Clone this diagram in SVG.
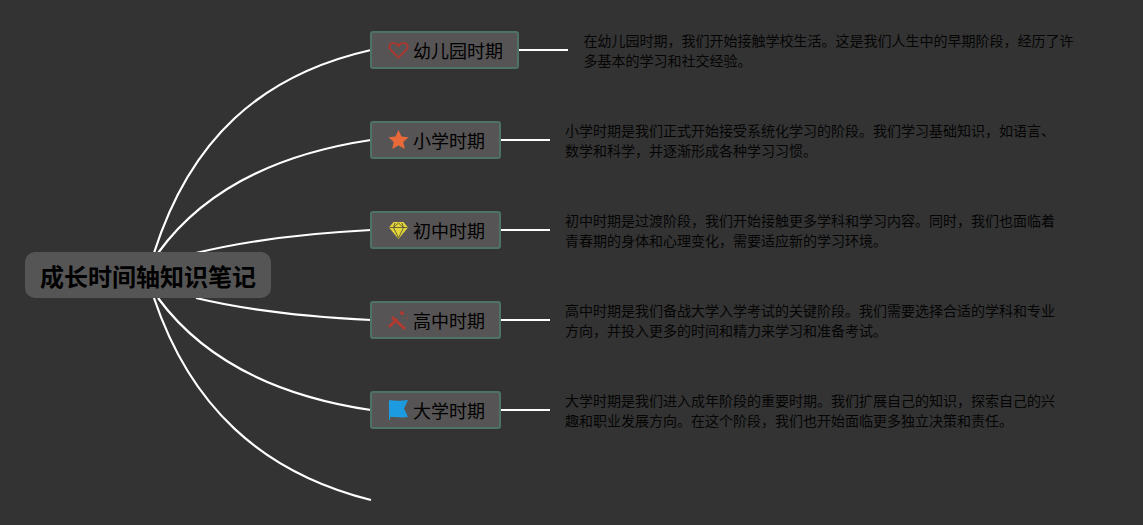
<svg xmlns="http://www.w3.org/2000/svg" width="1143" height="525" viewBox="0 0 1143 525">
<style>
text{font-family:"Noto Sans CJK SC","Liberation Sans",sans-serif;fill:#000}
.c{fill:none;stroke:#fff;stroke-width:2.200}
.n{fill:#565454;stroke:#4f7267;stroke-width:2}
.t{font-size:18px}
.d{font-size:14px;fill:#050505}
</style>
<rect width="1143" height="525" fill="#333333"/>
<g id="connectors">
<path class="c" d="M154 253C190 140 260 75 371 50"/>
<path class="c" d="M158 253C200 195 270 155 371 140"/>
<path class="c" d="M196 253C250 240 310 233 371 230"/>
<path class="c" d="M196 298C250 311 310 317 371 320"/>
<path class="c" d="M158 298C200 355 270 395 371 410"/>
<path class="c" d="M154 298C190 405 260 472 371 500"/>
<path class="c" d="M519 50H568"/>
<path class="c" d="M501 140H550"/>
<path class="c" d="M501 230H550"/>
<path class="c" d="M501 320H550"/>
<path class="c" d="M501 410H550"/>
</g>
<g id="root">
<rect x="25" y="252" width="246" height="46" rx="10" fill="#555555"/>
<text x="148" y="286" font-size="24px" font-weight="700" text-anchor="middle">成长时间轴知识笔记</text>
</g>
<g id="n1">
<rect class="n" x="371" y="32" width="147" height="36" rx="2"/>
<path d="M398.500 57.500L390.500 49.500C387.500 45.500 391 42.500 394 43C396.500 43.300 398 45 398.500 46C399 45 400.500 43.300 403 43C406 42.500 409.500 45.500 406.500 49.500Z" fill="none" stroke="#a63a33" stroke-width="2"/>
<text class="t" x="413" y="58">幼儿园时期</text>
<text class="d" x="583.500" y="46">在幼儿园时期，我们开始接触学校生活。这是我们人生中的早期阶段，经历了许</text>
<text class="d" x="583.500" y="66">多基本的学习和社交经验。</text>
</g>
<g id="n2">
<rect class="n" x="371" y="122" width="129" height="36" rx="2"/>
<path d="M398.500 130L401.500 136.500L408.500 137.300L403.300 142L404.800 149L398.500 145.500L392.200 149L393.700 142L388.500 137.300L395.500 136.500Z" fill="#e8693a"/>
<text class="t" x="413" y="148">小学时期</text>
<text class="d" x="565" y="136">小学时期是我们正式开始接受系统化学习的阶段。我们学习基础知识，如语言、</text>
<text class="d" x="565" y="156">数学和科学，并逐渐形成各种学习习惯。</text>
</g>
<g id="n3">
<rect class="n" x="371" y="212" width="129" height="36" rx="2"/>
<path d="M393.500 222H403.500L408 227.500L398.500 239L389 227.500Z" fill="#e3d43a"/>
<path d="M389.500 227.500H407.500M395 223L393.500 227.500L398.500 238L403.500 227.500L402 223M393.500 227.500L398.500 223L403.500 227.500" fill="none" stroke="#4a4a3a" stroke-width="0.800"/>
<text class="t" x="413" y="238">初中时期</text>
<text class="d" x="565" y="226">初中时期是过渡阶段，我们开始接触更多学科和学习内容。同时，我们也面临着</text>
<text class="d" x="565" y="246">青春期的身体和心理变化，需要适应新的学习环境。</text>
</g>
<g id="n4">
<rect class="n" x="371" y="302" width="129" height="36" rx="2"/>
<path d="M392 317L405 329" stroke="#b23a30" stroke-width="3" fill="none"/>
<path d="M389 327L397 319" stroke="#b23a30" stroke-width="2.500" fill="none"/>
<circle cx="402" cy="313" r="2" fill="#b23a30"/>
<circle cx="407" cy="318" r="1" fill="#8a4a44"/>
<text class="t" x="413" y="328">高中时期</text>
<text class="d" x="565" y="316">高中时期是我们备战大学入学考试的关键阶段。我们需要选择合适的学科和专业</text>
<text class="d" x="565" y="336">方向，并投入更多的时间和精力来学习和准备考试。</text>
</g>
<g id="n5">
<rect class="n" x="371" y="392" width="129" height="36" rx="2"/>
<path d="M389 400C394 401 402 401 408 400L404 408.500L408 417C402 418 394 417 390 417V420H389Z" fill="#1d9be0"/>
<text class="t" x="413" y="418">大学时期</text>
<text class="d" x="565" y="406">大学时期是我们进入成年阶段的重要时期。我们扩展自己的知识，探索自己的兴</text>
<text class="d" x="565" y="426">趣和职业发展方向。在这个阶段，我们也开始面临更多独立决策和责任。</text>
</g>
</svg>
